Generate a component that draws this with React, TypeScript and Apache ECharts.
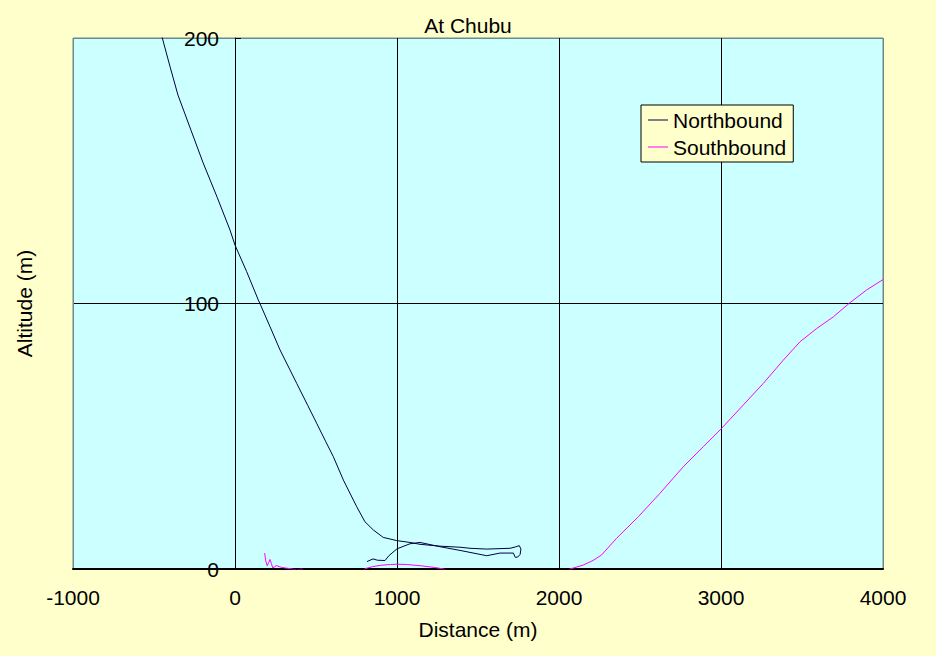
import React, { useEffect, useRef } from "react";
import * as echarts from "echarts";

const chartTitle = "At Chubu";
const xName = "Distance (m)";
const yName = "Altitude (m)";
const seriesNames = ["Northbound", "Southbound"];

// [distance (m), altitude (m)]
const northbound: [number, number][] = [
  [-462, 203], [-400, 189], [-352, 178.5], [-270, 165], [-197, 153], [-110, 140], [-31, 127.7],
  [0, 122], [72, 112], [144, 101.3], [154, 100], [216, 91.3], [278, 82.5],
  [381, 69.9], [450, 61.5], [504, 54.9], [560, 48], [607, 42.3], [669, 33.5],
  [751, 23.5], [802, 17.8], [854, 14.7], [915, 11.9], [998, 10.7], [1080, 10.0],
  [1142, 9.3], [1265, 8.6], [1389, 8.2], [1451, 7.8], [1554, 7.5], [1698, 7.8],
  [1730, 8.3], [1755, 8.8], [1765, 7.5], [1760, 5.5], [1745, 4.5], [1730, 4.4],
  [1718, 6.0], [1636, 6.0], [1554, 5.0], [1389, 7.0], [1265, 8.4], [1142, 10.0],
  [1080, 9.5], [1000, 7.6], [950, 5.0], [926, 3.2], [880, 3.3], [852, 3.8], [815, 2.8],
];

const southbound: [number, number][] = [
  [183, 6.0], [190, 3.0], [199, 1.2], [208, 2.5], [216, 3.6], [225, 2.0],
  [233, 0.4], [245, 0.9], [257, 1.3], [272, 0.9], [288, 0.6], [319, 0.3],
  [350, 0.1], [380, -0.5], [412, 0.05], [440, -2], [780, -2], [802, 0.1],
  [850, 0.9], [900, 1.4], [960, 1.7], [1000, 1.8], [1060, 1.7], [1150, 1.2],
  [1230, 0.6], [1290, 0], [1330, -2], [2040, -2], [2068, 0], [2150, 1.5],
  [2210, 3.2], [2263, 5.3], [2356, 11.6], [2490, 19.7], [2623, 28.5], [2767, 38.5],
  [2891, 46.1], [3004, 53], [3138, 61.8], [3261, 69.9], [3385, 78.7],
  [3488, 85.6], [3591, 90.6], [3694, 95], [3796, 100.3], [3899, 105.1], [4000, 109],
];

const xTicks = { min: -1000, max: 4000, interval: 1000 };
const yTicks = { min: 0, max: 200, interval: 100 };

const FONT = "Liberation Sans, Arial, sans-serif";
const FS = 21;
const BORDER = "#6b8b8b";

export default function App() {
  const ref = useRef<HTMLDivElement>(null);
  useEffect(() => {
    if (!ref.current) return;
    const chart = echarts.init(ref.current, undefined, { renderer: "svg" });
    chart.setOption({
      animation: false,
      backgroundColor: "#FFFFCC",
      textStyle: { fontFamily: FONT },
      title: {
        text: chartTitle,
        left: "center",
        top: 15,
        padding: 0,
        textStyle: { fontSize: FS, fontWeight: "normal", color: "#000", fontFamily: FONT },
      },
      legend: {
        orient: "vertical",
        left: 641,
        top: 105,
        padding: [3, 7, 3, 7],
        itemGap: 3,
        itemWidth: 20,
        itemHeight: 1,
        backgroundColor: "#FFFFCC",
        borderColor: "#000",
        borderWidth: 1,
        borderRadius: 0,
        textStyle: { fontSize: FS, color: "#000", fontFamily: FONT, lineHeight: 24 },
        data: [
          { name: seriesNames[0], icon: "rect", itemStyle: { color: "#000040" } },
          { name: seriesNames[1], icon: "rect", itemStyle: { color: "#FF00FF" } },
        ],
      },
      grid: {
        left: 73,
        right: 53,
        top: 38,
        bottom: 87,
        containLabel: false,
        outerBoundsMode: "none",
        show: true,
        backgroundColor: "#CCFFFF",
        borderColor: BORDER,
        borderWidth: 1,
      },
      xAxis: {
        type: "value",
        min: xTicks.min,
        max: xTicks.max,
        interval: xTicks.interval,
        name: xName,
        nameLocation: "middle",
        nameGap: 50,
        nameTextStyle: { fontSize: FS, color: "#000", fontFamily: FONT },
        axisLine: { show: true, onZero: false, lineStyle: { color: "#000", width: 2 } },
        axisTick: { show: false },
        axisLabel: {
          fontSize: FS,
          color: "#000",
          margin: 18,
          fontFamily: FONT,
          formatter: (v: number) => String(v),
        },
        splitLine: {
          show: true,
          lineStyle: { color: [BORDER, "#000", "#000", "#000", "#000", BORDER], width: 1 },
        },
      },
      yAxis: {
        type: "value",
        min: yTicks.min,
        max: yTicks.max,
        interval: yTicks.interval,
        position: "left",
        offset: -162,
        name: yName,
        nameLocation: "middle",
        nameGap: 200,
        nameRotate: 90,
        nameTextStyle: { fontSize: FS, color: "#000", fontFamily: FONT },
        axisLine: { show: true, onZero: false, lineStyle: { color: "#000", width: 1 } },
        axisTick: { show: true, inside: true, length: 6, lineStyle: { color: "#000" } },
        axisLabel: {
          fontSize: FS,
          color: "#000",
          margin: 16,
          fontFamily: FONT,
          formatter: (v: number) => String(v),
        },
        splitLine: {
          show: true,
          lineStyle: { color: ["#000", "#000", BORDER], width: 1 },
        },
      },
      series: [
        {
          name: seriesNames[0],
          type: "line",
          data: northbound,
          showSymbol: false,
          symbol: "none",
          smooth: false,
          clip: true,
          lineStyle: { color: "#000040", width: 1 },
          itemStyle: { color: "#000040" },
        },
        {
          name: seriesNames[1],
          type: "line",
          data: southbound,
          showSymbol: false,
          symbol: "none",
          smooth: false,
          clip: true,
          lineStyle: { color: "#FF00FF", width: 1 },
          itemStyle: { color: "#FF00FF" },
        },
      ],
    });
    return () => chart.dispose();
  }, []);
  return (
    <div
      ref={ref}
      style={{ position: "absolute", left: 0, top: 0, width: 936, height: 656 }}
    />
  );
}
